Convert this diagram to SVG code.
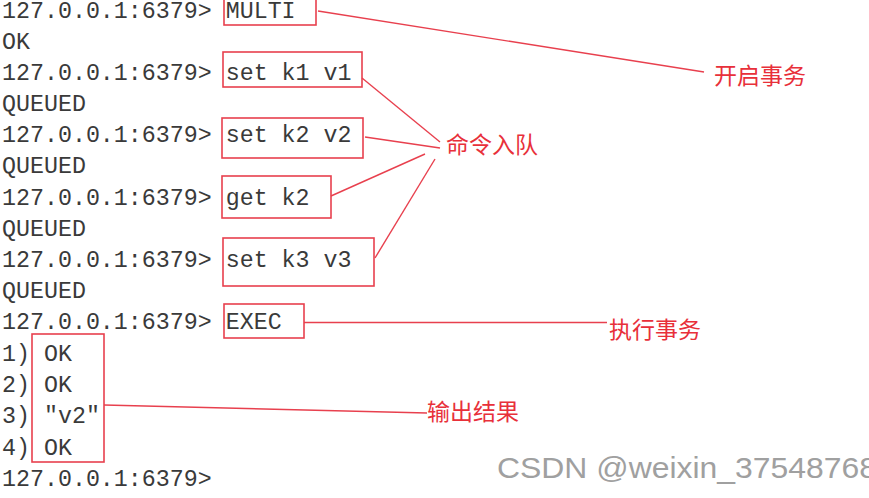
<svg xmlns="http://www.w3.org/2000/svg" width="869" height="498" viewBox="0 0 869 498">
<style>
.con{font-family:"Liberation Mono","DejaVu Sans Mono",monospace;font-size:23.3px;fill:#3a3a3a}
.box{fill:none;stroke:#e8404e;stroke-width:1.6}
.lbl{font-family:"Noto Sans CJK SC","Noto Sans",sans-serif;font-size:23px;fill:#e8303a}
.ln{fill:none;stroke:#e8404e;stroke-width:1.4}
.wm{font-family:"Liberation Sans",Arial,sans-serif;font-size:30px;fill:#a0a0a0}
</style>
<rect width="869" height="498" fill="#ffffff"/>
<g id="console">
<text class="con" x="2" y="18">127.0.0.1:6379&gt; MULTI</text>
<text class="con" x="2" y="49">OK</text>
<text class="con" x="2" y="80">127.0.0.1:6379&gt; set k1 v1</text>
<text class="con" x="2" y="111">QUEUED</text>
<text class="con" x="2" y="142">127.0.0.1:6379&gt; set k2 v2</text>
<text class="con" x="2" y="173">QUEUED</text>
<text class="con" x="2" y="205">127.0.0.1:6379&gt; get k2</text>
<text class="con" x="2" y="236">QUEUED</text>
<text class="con" x="2" y="267">127.0.0.1:6379&gt; set k3 v3</text>
<text class="con" x="2" y="298">QUEUED</text>
<text class="con" x="2" y="329">127.0.0.1:6379&gt; EXEC</text>
<text class="con" x="2" y="361">1) OK</text>
<text class="con" x="2" y="392">2) OK</text>
<text class="con" x="2" y="423">3) "v2"</text>
<text class="con" x="2" y="455">4) OK</text>
<text class="con" x="2" y="486">127.0.0.1:6379&gt;</text>
</g>
<g id="box-multi"><rect class="box" x="224" y="-2" width="92" height="27"/></g>
<g id="box-set-k1"><rect class="box" x="223" y="52" width="139" height="35"/></g>
<g id="box-set-k2"><rect class="box" x="222" y="118" width="141" height="40"/></g>
<g id="box-get-k2"><rect class="box" x="222" y="176" width="109" height="42"/></g>
<g id="box-set-k3"><rect class="box" x="223" y="238" width="151" height="48"/></g>
<g id="box-exec"><rect class="box" x="224" y="304" width="80" height="34"/></g>
<g id="box-results"><rect class="box" x="32" y="334" width="72" height="128"/></g>
<g id="connectors">
<line class="ln" x1="318" y1="11" x2="704" y2="72"/>
<line class="ln" x1="362" y1="78" x2="440" y2="142"/>
<line class="ln" x1="365" y1="137" x2="440" y2="148"/>
<line class="ln" x1="331" y1="196" x2="425" y2="154"/>
<line class="ln" x1="375" y1="258" x2="435" y2="159"/>
<line class="ln" x1="304" y1="322.5" x2="607" y2="322.5"/>
<line class="ln" x1="104" y1="405" x2="427" y2="413"/>
</g>
<g id="label-start"><text class="lbl" x="714" y="84">开启事务</text></g>
<g id="label-queue"><text class="lbl" x="446" y="153">命令入队</text></g>
<g id="label-exec"><text class="lbl" x="609" y="338">执行事务</text></g>
<g id="label-output"><text class="lbl" x="427" y="420">输出结果</text></g>
<g id="watermark"><text class="wm" x="497" y="478" textLength="380" lengthAdjust="spacingAndGlyphs">CSDN @weixin_37548768</text></g>
</svg>
